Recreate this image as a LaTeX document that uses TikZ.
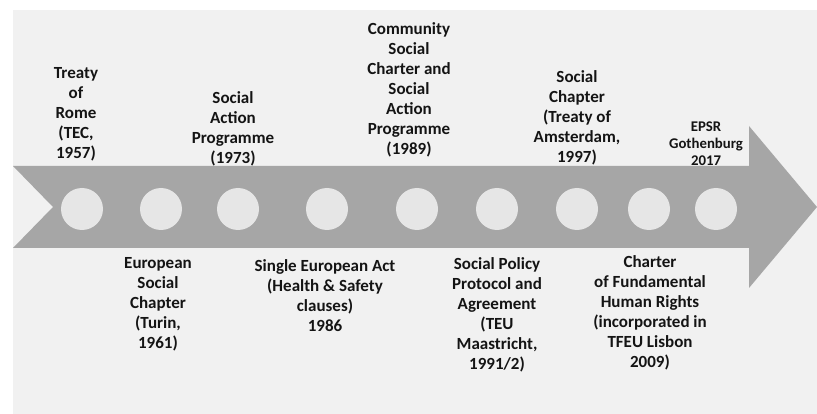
\documentclass[tikz,border=0pt]{standalone}
\usepackage{fontspec}
\setmainfont{Carlito}
\definecolor{bgpanel}{HTML}{F1F1F1}
\definecolor{arrowgray}{HTML}{A6A6A6}
\definecolor{dotgray}{HTML}{E6E6E6}
\definecolor{txt}{HTML}{141414}
\begin{document}
\begin{tikzpicture}[x=1pt,y=-1pt,
  dot/.style={circle,fill=dotgray,draw=none,minimum size=42pt,inner sep=0pt},
  lbl/.style={align=center,inner sep=0pt,text=txt,font=\bfseries\fontsize{17}{20}\selectfont},
  small/.style={align=center,inner sep=0pt,text=txt,font=\bfseries\fontsize{14.8}{17}\selectfont}]
\useasboundingbox (0,0) rectangle (817,414);
\fill[white] (0,0) rectangle (817,414);
\fill[bgpanel] (13,10) rectangle (817,414);
\fill[arrowgray] (13,166) -- (749,166) -- (749,126) -- (817,207) -- (749,288) -- (749,248) -- (13,248) -- (53,207) -- cycle;
\foreach \n/\x in {c1/82,c2/161,c3/238,c4/327,c5/417,c6/497,c7/577,c8/649,c9/716}
  \node[dot] (\n) at (\x,209) {};
% top labels
\node[lbl] (rome) at (76,114) {Treaty\\of\\Rome\\(TEC,\\1957)};
\node[lbl] (sap) at (233,129) {Social\\Action\\Programme\\(1973)};
\node[lbl] (csc) at (409,90) {Community\\Social\\Charter and\\Social\\Action\\Programme\\(1989)};
\node[lbl] (ams) at (577,118) {Social\\Chapter\\(Treaty of\\Amsterdam,\\1997)};
\node[small] (epsr) at (706,143.5) {EPSR\\Gothenburg\\2017};
% bottom labels
\node[lbl] (turin) at (158,304) {European\\Social\\Chapter\\(Turin,\\1961)};
\node[lbl] (sea) at (325,296) {Single European Act\\(Health \& Safety\\clauses)\\1986};
\node[lbl] (teu) at (497,315) {Social Policy\\Protocol and\\Agreement\\(TEU\\Maastricht,\\1991/2)};
\node[lbl] (cfr) at (650,313) {Charter\\of Fundamental\\Human Rights\\(incorporated in\\TFEU Lisbon\\2009)};
\end{tikzpicture}
\end{document}
